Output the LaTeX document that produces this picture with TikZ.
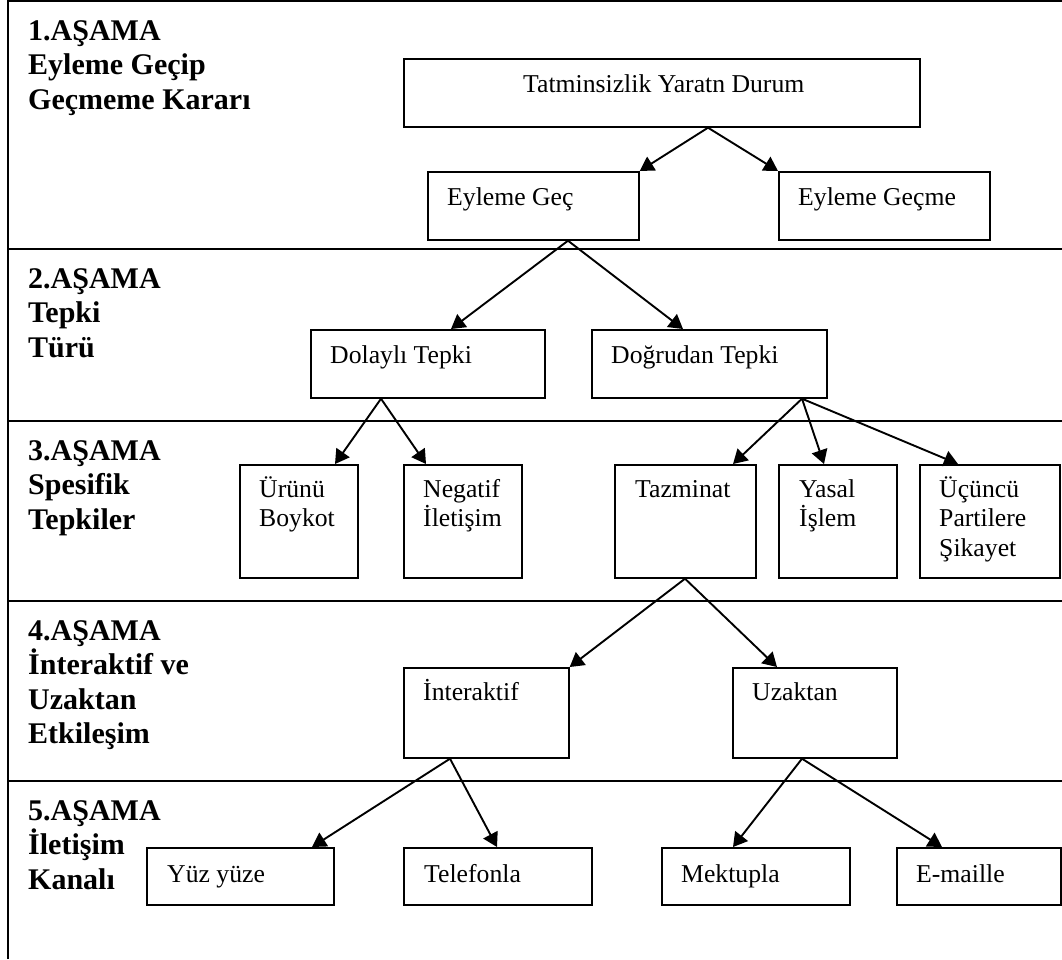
\documentclass[tikz,border=0pt]{standalone}
\usepackage{fontspec}
\setmainfont{Liberation Serif}
\usetikzlibrary{arrows.meta,calc}
\begin{document}
% multi-line nodes are placed by the baseline of their last line
\begin{tikzpicture}[x=1pt,y=-1pt,
  box/.style={draw,line width=1.7pt,inner sep=0pt,anchor=north west},
  lbl/.style={anchor=base west,inner sep=0pt,font=\fontsize{25.7}{29.8}\selectfont,align=left},
  head/.style={anchor=base west,inner sep=0pt,font=\fontsize{30}{34.6}\selectfont\bfseries,align=left},
  rule/.style={line width=2pt},
  arr/.style={line width=1.9pt,-{Triangle[length=14pt,width=16pt]}},
]
\useasboundingbox (0,0) rectangle (1062,959);

% outer frame and stage separators
\draw[rule] (8,959) -- (8,1) -- (1062,1);
\foreach \yy in {249,421,601,781} \draw[rule] (8,\yy) -- (1062,\yy);

% stage headings
\node[head] (h1) at (28,109.2) {1.AŞAMA\\Eyleme Geçip\\Geçmeme Kararı};
\node[head] (h2) at (28,357.2) {2.AŞAMA\\Tepki\\Türü};
\node[head] (h3) at (28,529.2) {3.AŞAMA\\Spesifik\\Tepkiler};
\node[head] (h4) at (28,743.8) {4.AŞAMA\\İnteraktif ve\\Uzaktan\\Etkileşim};
\node[head] (h5) at (28,889.2) {5.AŞAMA\\İletişim\\Kanalı};

% boxes
\node[box,minimum width=516pt,minimum height=68pt]  (tat)   at (403,58)  {};
\node[box,minimum width=211pt,minimum height=68pt]  (gec)   at (427,171) {};
\node[box,minimum width=211pt,minimum height=68pt]  (gecme) at (778,171) {};
\node[box,minimum width=234pt,minimum height=68pt]  (dol)   at (310,329) {};
\node[box,minimum width=235pt,minimum height=68pt]  (dog)   at (591,329) {};
\node[box,minimum width=118pt,minimum height=113pt] (urun)  at (239,464) {};
\node[box,minimum width=118pt,minimum height=113pt] (neg)   at (403,464) {};
\node[box,minimum width=141pt,minimum height=113pt] (taz)   at (614,464) {};
\node[box,minimum width=118pt,minimum height=113pt] (yas)   at (778,464) {};
\node[box,minimum width=140pt,minimum height=113pt] (ucu)   at (919,464) {};
\node[box,minimum width=165pt,minimum height=90pt]  (intr)  at (403,667) {};
\node[box,minimum width=164pt,minimum height=90pt]  (uzak)  at (732,667) {};
\node[box,minimum width=187pt,minimum height=57pt]  (yuz)   at (146,847) {};
\node[box,minimum width=188pt,minimum height=57pt]  (tel)   at (403,847) {};
\node[box,minimum width=188pt,minimum height=57pt]  (mek)   at (661,847) {};
\node[box,minimum width=164pt,minimum height=57pt]  (email) at (896,847) {};

% box texts
\node[lbl] (ttat)   at (523,92)    {Tatminsizlik Yaratn Durum};
\node[lbl] (tgec)   at (447,205)   {Eyleme Geç};
\node[lbl] (tgecme) at (798,205)   {Eyleme Geçme};
\node[lbl] (tdol)   at (330,363)   {Dolaylı Tepki};
\node[lbl] (tdog)   at (611,363)   {Doğrudan Tepki};
\node[lbl] (turun)  at (259,526.8) {Ürünü\\Boykot};
\node[lbl] (tneg)   at (423,526.8) {Negatif\\İletişim};
\node[lbl] (ttaz)   at (635,497)   {Tazminat};
\node[lbl] (tyas)   at (799,526.8) {Yasal\\İşlem};
\node[lbl] (tucu)   at (939,556.6) {Üçüncü\\Partilere\\Şikayet};
\node[lbl] (tintr)  at (423,700)   {İnteraktif};
\node[lbl] (tuzak)  at (752,700)   {Uzaktan};
\node[lbl] (tyuz)   at (167,882)   {Yüz yüze};
\node[lbl] (ttel)   at (424,882)   {Telefonla};
\node[lbl] (tmek)   at (681,882)   {Mektupla};
\node[lbl] (temail) at (916,882)   {E-maille};

% connectors
\draw[arr] ([xshift=305pt]tat.south west) -- (gec.north east);
\draw[arr] ([xshift=305pt]tat.south west) -- (gecme.north west);
\draw[arr] ([xshift=141pt]gec.south west) -- ([xshift=141pt]dol.north west);
\draw[arr] ([xshift=141pt]gec.south west) -- ([xshift=92pt]dog.north west);
\draw[arr] ([xshift=71pt]dol.south west) -- ([xshift=96pt]urun.north west);
\draw[arr] ([xshift=71pt]dol.south west) -- ([xshift=23pt]neg.north west);
\draw[arr] ([xshift=211pt]dog.south west) -- ([xshift=119pt]taz.north west);
\draw[arr] ([xshift=211pt]dog.south west) -- ([xshift=46pt]yas.north west);
\draw[arr] ([xshift=211pt]dog.south west) -- ([xshift=39pt]ucu.north west);
\draw[arr] ([xshift=71pt]taz.south west) -- (intr.north east);
\draw[arr] ([xshift=71pt]taz.south west) -- ([xshift=45pt]uzak.north west);
\draw[arr] ([xshift=47pt]intr.south west) -- ([xshift=166pt]yuz.north west);
\draw[arr] ([xshift=47pt]intr.south west) -- ([xshift=94pt]tel.north west);
\draw[arr] ([xshift=70pt]uzak.south west) -- ([xshift=72pt]mek.north west);
\draw[arr] ([xshift=70pt]uzak.south west) -- ([xshift=46pt]email.north west);
\end{tikzpicture}
\end{document}
